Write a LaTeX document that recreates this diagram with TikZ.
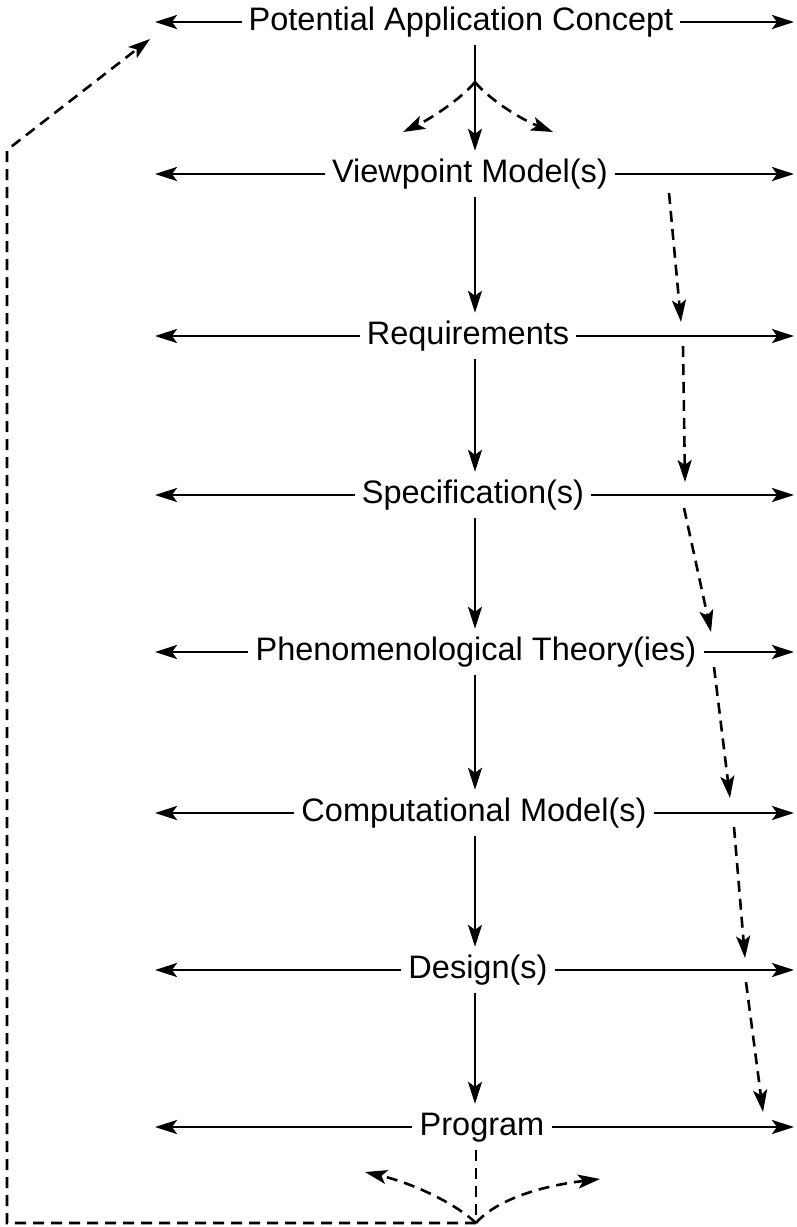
\documentclass[tikz,border=0pt]{standalone}
\usepackage{fontspec}
\setmainfont{Liberation Sans}
\usetikzlibrary{arrows.meta}
\begin{document}
\begin{tikzpicture}[x=1pt,y=-1pt,
  lbl/.style={font=\fontsize{32.5}{37}\selectfont, inner xsep=7pt, inner ysep=9pt, text height=22pt, text depth=6pt},
  arr/.style={line width=2.6pt, -{Stealth[length=22pt,width=14pt,inset=5pt]}},
  dsh/.style={arr, dash pattern=on 11pt off 7pt},
  dline/.style={line width=2.6pt, dash pattern=on 11pt off 7pt}]
\useasboundingbox (0,0) rectangle (796,1227);
% labels
\node[lbl] (pac)  at (461,22)   {Potential Application Concept};
\node[lbl] (vm)   at (470,174)  {Viewpoint Model(s)};
\node[lbl] (req)  at (468,336)  {Requirements};
\node[lbl] (spec) at (473,495)  {Specification(s)};
\node[lbl] (phen) at (476,652)  {Phenomenological Theory(ies)};
\node[lbl] (comp) at (474,813)  {Computational Model(s)};
\node[lbl] (des)  at (478,970)  {Design(s)};
\node[lbl] (prog) at (482,1127) {Program};
% reference columns
\coordinate (L) at (155,0);
\coordinate (R) at (794,0);
\coordinate (C) at (475,0);
% horizontal arrows
\foreach \n in {pac,vm,req,spec,phen,comp,des,prog}{
  \draw[arr] (\n.west) -- (\n.west -| L);
  \draw[arr] (\n.east) -- (\n.east -| R);
}
% vertical arrows
\draw[arr] (pac.south -| C) -- (vm.north -| C);
\draw[arr] (vm.south -| C) -- (req.north -| C);
\draw[arr] (req.south -| C) -- (spec.north -| C);
\draw[arr] (spec.south -| C) -- (phen.north -| C);
\draw[arr] (phen.south -| C) -- (comp.north -| C);
\draw[arr] (comp.south -| C) -- (des.north -| C);
\draw[arr] (des.south -| C) -- (prog.north -| C);
% top dashed curved arrows
\coordinate (jt) at (475,82);
\coordinate (tl) at (403,132);
\coordinate (tr) at (553,132);
\draw[dsh] (jt) .. controls (462,98) and (432,118) .. (tl);
\draw[dsh] (jt) .. controls (488,98) and (518,118) .. (tr);
% right dashed diagonal arrows
\coordinate (d1s) at (669,193);  \coordinate (d1e) at (681,322);
\coordinate (d2s) at (683,346);  \coordinate (d2e) at (685,482);
\coordinate (d3s) at (684,508);  \coordinate (d3e) at (711,632);
\coordinate (d4s) at (714,667);  \coordinate (d4e) at (730,798);
\coordinate (d5s) at (734,827);  \coordinate (d5e) at (745,958);
\coordinate (d6s) at (746,982);  \coordinate (d6e) at (763,1112);
\foreach \i in {1,...,6}{\draw[dsh] (d\i s) -- (d\i e);}
% bottom
\coordinate (jb) at (476,1223);
\coordinate (bl) at (365,1172);
\coordinate (br) at (600,1179);
\draw[dline] (prog.south -| jb) -- (jb);
\draw[dsh] (jb) .. controls (455,1203) and (412,1183) .. (bl);
\draw[dsh] (jb) .. controls (496,1200) and (540,1186) .. (br);
% feedback loop
\coordinate (lb) at (7,1223);
\coordinate (lt) at (7,150);
\coordinate (ltip) at (150,39);
\draw[dsh] (jb) -- (lb) -- (lt) -- (ltip);
\end{tikzpicture}
\end{document}
